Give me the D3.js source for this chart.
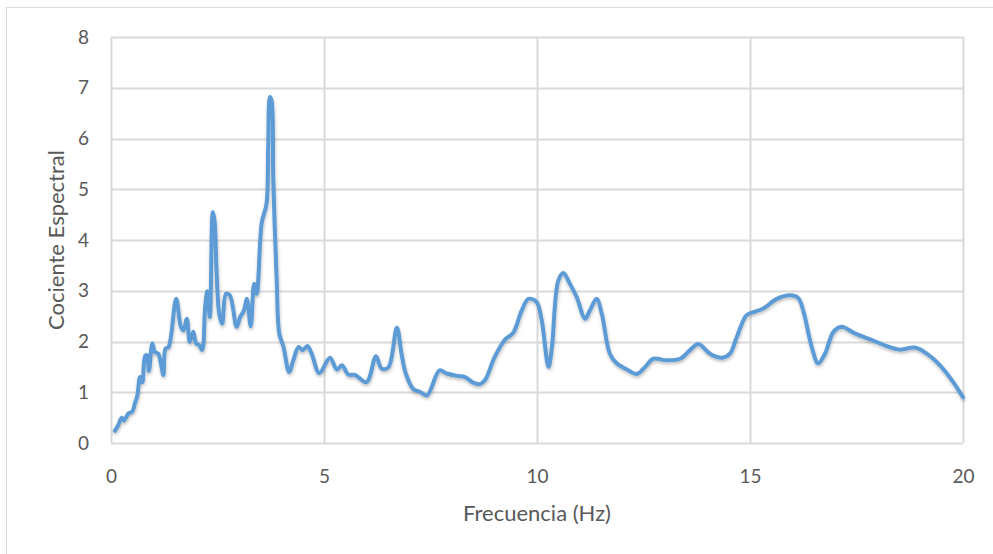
<!DOCTYPE html>
<html>
<head>
<meta charset="utf-8">
<style>
  body { margin: 0; background: #fff; }
  .tick text { font: 19px Lato, "Open Sans", sans-serif; fill: #595959; }
  .title { font: 22px Lato, "Open Sans", sans-serif; fill: #595959; }
</style>
</head>
<body>
<svg width="993" height="554"></svg>
<script src="https://cdn.jsdelivr.net/npm/d3@7"></script>
<script>
// frecuencia (Hz) y cociente espectral
var freq = [0.09, 0.17, 0.25, 0.3, 0.41, 0.5, 0.56, 0.62, 0.68, 0.735, 0.8, 0.845, 0.89, 0.97, 1.03, 1.11, 1.17, 1.23, 1.28, 1.35,
  1.53, 1.64, 1.7, 1.78, 1.85, 1.93, 2.0, 2.07, 2.14, 2.21, 2.26, 2.32, 2.39, 2.43, 2.48, 2.54, 2.61, 2.7, 2.79, 2.95,
  3.03, 3.12, 3.19, 3.28, 3.36, 3.42, 3.54, 3.65, 3.69, 3.73, 3.77, 3.81, 3.89, 3.95, 4.05, 4.18, 4.28, 4.4, 4.5, 4.61,
  4.71, 4.89, 5.14, 5.3, 5.42, 5.57, 5.73, 6.0, 6.22, 6.35, 6.51, 6.71, 6.82, 6.92, 7.1, 7.25, 7.42, 7.71, 7.88, 8.15,
  8.31, 8.5, 8.66, 8.78, 9.01, 9.25, 9.44, 9.64, 9.8, 9.99, 10.11, 10.27, 10.35, 10.5, 10.62, 10.77, 10.93, 11.13, 11.24, 11.4,
  11.52, 11.71, 11.87, 12.11, 12.34, 12.54, 12.73, 13.04, 13.36, 13.59, 13.79, 14.06, 14.34, 14.53, 14.69, 14.92, 15.12, 15.31, 15.63, 15.94,
  16.13, 16.25, 16.45, 16.6, 16.76, 16.96, 17.15, 17.46, 17.89, 18.21, 18.52, 18.87, 19.15, 19.46, 19.77, 20.0];
var cociente = [0.24, 0.35, 0.5, 0.44, 0.58, 0.62, 0.78, 0.94, 1.3, 1.2, 1.71, 1.73, 1.42, 1.96, 1.79, 1.76, 1.57, 1.34, 1.86, 1.89,
  2.84, 2.29, 2.22, 2.45, 1.99, 2.19, 1.96, 1.93, 1.83, 2.68, 2.99, 2.48, 4.55, 4.38, 3.34, 2.55, 2.35, 2.94, 2.91, 2.29,
  2.48, 2.61, 2.84, 2.3, 3.14, 2.94, 4.35, 4.71, 5.82, 6.82, 6.74, 5.17, 3.2, 2.16, 1.89, 1.4, 1.63, 1.89, 1.83, 1.91,
  1.76, 1.38, 1.68, 1.45, 1.53, 1.35, 1.34, 1.2, 1.71, 1.47, 1.49, 2.27, 1.76, 1.37, 1.06, 1.01, 0.94, 1.43, 1.37, 1.32,
  1.3, 1.19, 1.16, 1.24, 1.7, 2.04, 2.17, 2.61, 2.84, 2.78, 2.42, 1.5, 1.89, 3.2, 3.35, 3.14, 2.88, 2.45, 2.61, 2.84,
  2.55, 1.76, 1.57, 1.45, 1.36, 1.5, 1.66, 1.63, 1.66, 1.83, 1.95, 1.76, 1.68, 1.76, 2.09, 2.52, 2.59, 2.65, 2.84, 2.91,
  2.86, 2.61, 1.89, 1.57, 1.76, 2.19, 2.29, 2.16, 2.02, 1.91, 1.84, 1.88, 1.76, 1.53, 1.2, 0.9];
var xTicks = [0, 5, 10, 15, 20];
var yTicks = [0, 1, 2, 3, 4, 5, 6, 7, 8];

var svg = d3.select("svg"),
    mLeft = 111, mRight = 963, mTop = 37, mBottom = 443;

// borde exterior del grafico
svg.append("rect")
    .attr("x", 6.5).attr("y", 7.5)
    .attr("width", 1100).attr("height", 700)
    .attr("fill", "none").attr("stroke", "#d9d9d9");

var x = d3.scaleLinear().domain([0, 20]).range([mLeft, mRight]);
var y = d3.scaleLinear().domain([0, 8]).range([mBottom, mTop]);

var defs = svg.append("defs");
var f = defs.append("filter").attr("id", "sombra").attr("x", "-5%").attr("y", "-5%").attr("width", "110%").attr("height", "115%");
f.append("feDropShadow").attr("dx", 0.5).attr("dy", 2).attr("stdDeviation", 1.5)
    .attr("flood-color", "#000").attr("flood-opacity", 0.25);

// rejilla
svg.append("g").selectAll("line").data(yTicks).enter().append("line")
    .attr("x1", mLeft).attr("x2", mRight)
    .attr("y1", function(d) { return Math.round(y(d)) + 0.5; })
    .attr("y2", function(d) { return Math.round(y(d)) + 0.5; })
    .attr("stroke", "#d9d9d9").attr("stroke-width", 2);
svg.append("g").selectAll("line").data(xTicks).enter().append("line")
    .attr("y1", mTop).attr("y2", mBottom)
    .attr("x1", function(d) { return Math.round(x(d)) + 0.5; })
    .attr("x2", function(d) { return Math.round(x(d)) + 0.5; })
    .attr("stroke", "#d9d9d9").attr("stroke-width", 2);

// ejes
var gx = svg.append("g").attr("transform", "translate(0," + (mBottom + 26) + ")")
    .call(d3.axisBottom(x).tickValues(xTicks).tickSize(0).tickPadding(0));
gx.select(".domain").remove();
gx.selectAll("text").attr("dy", "0.71em");

var gy = svg.append("g").attr("transform", "translate(" + (mLeft - 22) + ",0)")
    .call(d3.axisLeft(y).tickValues(yTicks).tickSize(0).tickPadding(0));
gy.select(".domain").remove();

// serie
var line = d3.line()
    .x(function(d, i) { return x(freq[i]); })
    .y(function(d) { return y(d); })
    .curve(d3.curveCatmullRom.alpha(0.5));

svg.append("path")
    .datum(cociente)
    .attr("fill", "none")
    .attr("stroke", "#5b9bd5")
    .attr("stroke-width", 4)
    .attr("stroke-linejoin", "round")
    .attr("stroke-linecap", "round")
    .attr("filter", "url(#sombra)")
    .attr("d", line);

// titulos
svg.append("text").attr("class", "title")
    .attr("x", (mLeft + mRight) / 2).attr("y", 521)
    .attr("text-anchor", "middle")
    .text("Frecuencia (Hz)");

svg.append("text").attr("class", "title")
    .attr("transform", "translate(64," + (mTop + mBottom) / 2 + ") rotate(-90)")
    .attr("text-anchor", "middle")
    .text("Cociente Espectral");
</script>
</body>
</html>
